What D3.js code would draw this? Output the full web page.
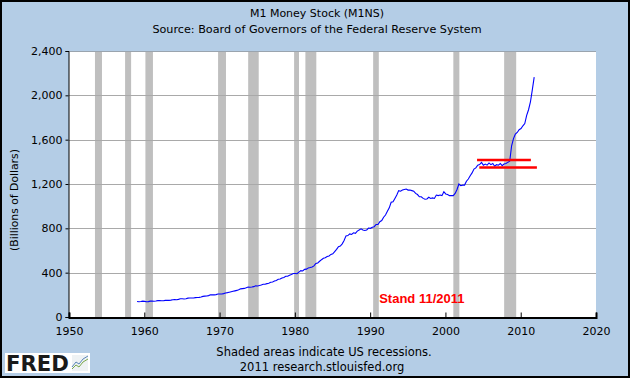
<!DOCTYPE html>
<html><head><meta charset="utf-8">
<script src="https://cdn.jsdelivr.net/npm/d3@7/dist/d3.min.js"></script>
<style>
html,body{margin:0;padding:0;background:#fff;}
svg{display:block;}
text{font-family:"DejaVu Sans",Verdana,sans-serif;}
</style></head><body>
<svg id="c" width="630" height="378"></svg>
<script>
// ---- data ----
const title = "M1 Money Stock (M1NS)";
const subtitle = "Source: Board of Governors of the Federal Reserve System";
const yTicks = [0, 400, 800, 1200, 1600, 2000, 2400];
const xTicks = [1950, 1960, 1970, 1980, 1990, 2000, 2010, 2020];
const recessions = [[1953.45,1954.38],[1957.45,1958.25],[1960.15,1961.15],[1969.8,1970.85],[1973.8,1975.2],[1979.9,1980.55],[1981.4,1982.85],[1990.4,1991.15],[2001.05,2001.85],[2007.8,2009.4]];
const startYear = 1959; // quarterly M1NS, billions of dollars
const m1 = [
 140,138,140,143, 141,138,139,143, 143,142,144,148, 148,146,146,150,
 151,150,152,156, 157,156,159,164, 165,163,165,170, 172,171,171,175,
 176,177,181,186, 188,189,193,200, 201,200,202,207, 207,208,211,217,
 220,224,228,232, 236,240,246,254, 256,258,263,270, 269,271,274,282,
 280,284,289,295, 296,301,304,313, 316,324,330,340, 343,352,357,367,
 368,377,383,392, 392,390,405,418, 415,430,432,443, 446,452,461,483,
 488,503,517,530, 534,545,551,565, 570,590,610,635, 640,660,690,732,
 735,750,745,760, 755,775,785,795, 785,780,785,803, 800,810,815,835,
 835,860,870,900, 920,955,985,1035, 1040,1070,1100,1140, 1135,1145,1150,1155,
 1145,1145,1140,1135, 1115,1105,1085,1085, 1070,1062,1065,1080, 1070,1075,1070,1100,
 1095,1100,1095,1130, 1110,1105,1095,1095, 1095,1115,1150,1200, 1185,1190,1190,1225,
 1245,1275,1300,1335, 1345,1370,1375,1395, 1370,1380,1370,1390, 1375,1385,1360,1375,
 1370,1385,1365,1380, 1385,1395,1405,1545, 1610,1650,1665,1690, 1700,1725,1745,1820,
 1870,1940,2050,2165
];
const refLines = [ {from:2004.2, to:2011.35, value:1417}, {from:2004.5, to:2012.15, value:1350} ];
const note = {text:"Stand 11/2011", year:1991.2, value:125};
const footer1 = "Shaded areas indicate US recessions.";
const footer2 = "2011 research.stlouisfed.org";
const yTitle = "(Billions of Dollars)";

// ---- chart ----
const W = 630, H = 378;
const m = {left:69, right:34, top:51, bottom:61};
const svg = d3.select("#c");
svg.append("rect").attr("x",0).attr("y",0).attr("width",W).attr("height",H).attr("fill","#b4cde6");
svg.append("rect").attr("x",1).attr("y",1).attr("width",W-2).attr("height",H-2).attr("fill","none").attr("stroke","#000").attr("stroke-width",2);

const x = d3.scaleLinear().domain([1950,2020]).range([m.left, W-m.right]);
const y = d3.scaleLinear().domain([0,2400]).range([H-m.bottom, m.top]);

const g = svg.append("g");
g.append("rect").attr("x",x(1950)).attr("y",y(2400)).attr("width",x(2020)-x(1950)).attr("height",y(0)-y(2400)).attr("fill","#fff");

g.selectAll("rect.rec").data(recessions).enter().append("rect").attr("class","rec")
 .attr("x",d=>x(d[0])).attr("width",d=>x(d[1])-x(d[0]))
 .attr("y",y(2400)).attr("height",y(0)-y(2400)).attr("fill","#bfbfbf");

// grid
g.selectAll("line.grid").data(yTicks.filter(v=>v>0 && v<2400)).enter().append("line").attr("class","grid")
 .attr("x1",x(1950)).attr("x2",x(2020)).attr("y1",d=>Math.round(y(d))+0.5).attr("y2",d=>Math.round(y(d))+0.5)
 .attr("stroke","#a9a9a9").attr("stroke-width",1);
g.append("line").attr("x1",x(1950)).attr("x2",x(2020)).attr("y1",y(2400)+0.5).attr("y2",y(2400)+0.5).attr("stroke","#9aa4ae");

// series
const pts = m1.map((v,i)=>[startYear + i/4 + 0.04, v]);
const line = d3.line().x(d=>x(d[0])).y(d=>y(d[1]));
g.append("path").datum(pts).attr("d",line).attr("fill","none").attr("stroke","#0000ff").attr("stroke-width",1.1);

// ref lines
g.selectAll("line.ref").data(refLines).enter().append("line")
 .attr("x1",d=>x(d.from)).attr("x2",d=>x(d.to)).attr("y1",d=>y(d.value)).attr("y2",d=>y(d.value))
 .attr("stroke","#ff0000").attr("stroke-width",2.5);

// note
g.append("text").attr("x",x(note.year)).attr("y",y(note.value)).text(note.text)
 .attr("fill","#ff0000").style("font-family","'Liberation Sans',Arial,sans-serif").style("font-weight","bold").style("font-size","13px");

// axes
const yAxis = d3.axisLeft(y).tickValues(yTicks).tickSize(3).tickPadding(3).tickFormat(d3.format(","));
const ya = svg.append("g").attr("transform",`translate(${x(1950)-0.5},0)`).call(yAxis);
ya.select(".domain").attr("stroke","#000");
ya.selectAll("text").style("font-size","11px").attr("fill","#000");

const xAxis = d3.axisBottom(x).tickValues(xTicks).tickSize(-5).tickPadding(10).tickFormat(d3.format("d"));
const xa = svg.append("g").attr("transform",`translate(0,${y(0)+0.5})`).call(xAxis);
xa.select(".domain").attr("stroke","#000").attr("stroke-width",2);
xa.selectAll("text").style("font-size","11px").attr("fill","#000");

// titles
svg.append("text").attr("x",317).attr("y",17).attr("text-anchor","middle").style("font-size","11px").text(title);
svg.append("text").attr("x",317).attr("y",33).attr("text-anchor","middle").style("font-size","11.2px").text(subtitle);
svg.append("text").attr("transform","translate(18,200) rotate(-90)").attr("text-anchor","middle").style("font-size","10.8px").text(yTitle);
svg.append("text").attr("x",324).attr("y",356).attr("text-anchor","middle").style("font-size","11.5px").text(footer1);
svg.append("text").attr("x",322).attr("y",371).attr("text-anchor","middle").style("font-size","11.5px").text(footer2);

// FRED logo
const lg = svg.append("g");
lg.append("rect").attr("x",5).attr("y",353).attr("width",85).attr("height",20).attr("fill","#fff");
lg.append("text").attr("x",6).attr("y",371).text("FRED").style("font-family","'DejaVu Sans',sans-serif").style("font-weight","900").style("font-size","21px").attr("fill","#1a1a1a").attr("textLength",63).attr("lengthAdjust","spacingAndGlyphs");
lg.append("rect").attr("x",72).attr("y",355).attr("width",16).attr("height",16).attr("fill","#eef2f4");
lg.append("path").attr("d","M72,369 L76,365 L79,367 L83,362 L88,359").attr("fill","none").attr("stroke","#7aa84a").attr("stroke-width",1);
lg.append("path").attr("d","M72,367 L76,362 L79,364 L83,359 L88,356").attr("fill","none").attr("stroke","#5b86b6").attr("stroke-width",1);
</script>
</body></html>
